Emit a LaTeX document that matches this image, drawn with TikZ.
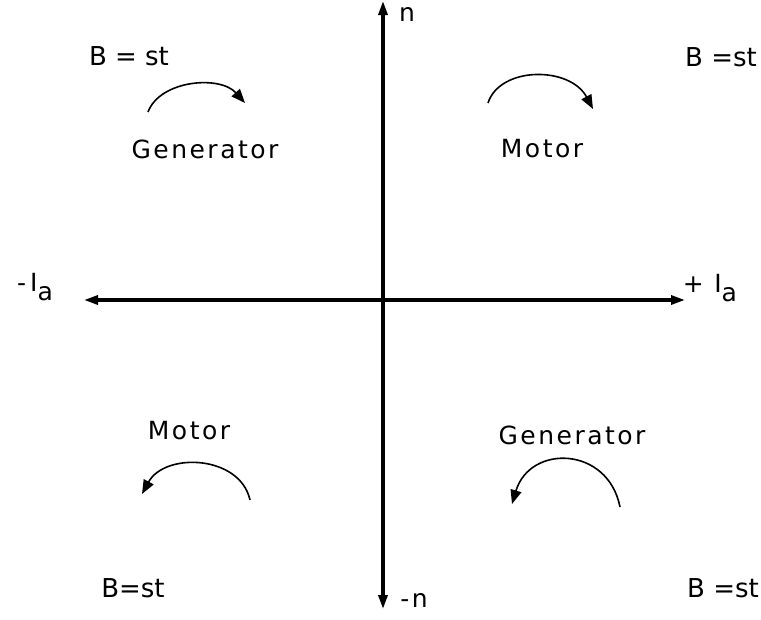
\documentclass[tikz,border=0pt]{standalone}
\usepackage{fontspec}
\usetikzlibrary{arrows.meta}
\newfontfamily\lblfont[LetterSpace=10]{DejaVu Sans}
\newfontfamily\bfont{DejaVu Sans}
\begin{document}
\begin{tikzpicture}[x=1pt,y=-1pt,
  lbl/.style={font=\lblfont\fontsize{25}{28}\selectfont, inner sep=0pt},
  blbl/.style={font=\bfont\fontsize{26}{28}\selectfont, inner sep=0pt},
  axis/.style={line width=3.2pt, -{Triangle[length=14pt,width=9pt]}},
  turn/.style={line width=1.6pt, -{Triangle[length=14pt,width=11pt]}}]
\useasboundingbox (0,0) rectangle (761,619);
\fill[white] (0,0) rectangle (761,619);
% axes
\coordinate (O) at (383,300);
\coordinate (nt) at (383,1);
\coordinate (nb) at (383,609);
\coordinate (il) at (84,300);
\coordinate (ir) at (685,300);
\draw[axis] (O) -- (nt);
\draw[axis] (O) -- (nb);
\draw[axis] (O) -- (il);
\draw[axis] (O) -- (ir);
% axis labels
\node[lbl] (n) at (407,14) {n};
\node[lbl] (mn) at (414,600) {-n};
\node[lbl] (ial) at (35,287) {-\,I\raisebox{-9pt}{a}};
\node[lbl] (iar) at (710,288) {+ I\raisebox{-9pt}{a}};
% quadrant texts
\node[blbl] (b1) at (129,56) {B = st};
\node[blbl, anchor=east] (b2) at (757,57) {B =st};
\node[blbl] (b3) at (133,588) {B=st};
\node[blbl, anchor=east] (b4) at (759,588) {B =st};
\node[lbl] (g1) at (205,149) {Generator};
\node[lbl] (m1) at (542,149) {Motor};
\node[lbl] (m2) at (189,431) {Motor};
\node[lbl] (g2) at (572,435) {Generator};
% rotation arrows
\coordinate (a1s) at (148,112); \coordinate (a1e) at (245,103);
\coordinate (a2s) at (488,103); \coordinate (a2e) at (593,109);
\coordinate (a3s) at (250,500); \coordinate (a3e) at (142,494);
\coordinate (a4s) at (620,507); \coordinate (a4e) at (512,504);
\draw[turn] (a1s) .. controls (160,80) and (220,75) .. (a1e);
\draw[turn] (a2s) .. controls (500,66) and (570,66) .. (a2e);
\draw[turn] (a3s) .. controls (240,455) and (165,452) .. (a3e);
\draw[turn] (a4s) .. controls (608,446) and (530,444) .. (a4e);
\end{tikzpicture}
\end{document}
